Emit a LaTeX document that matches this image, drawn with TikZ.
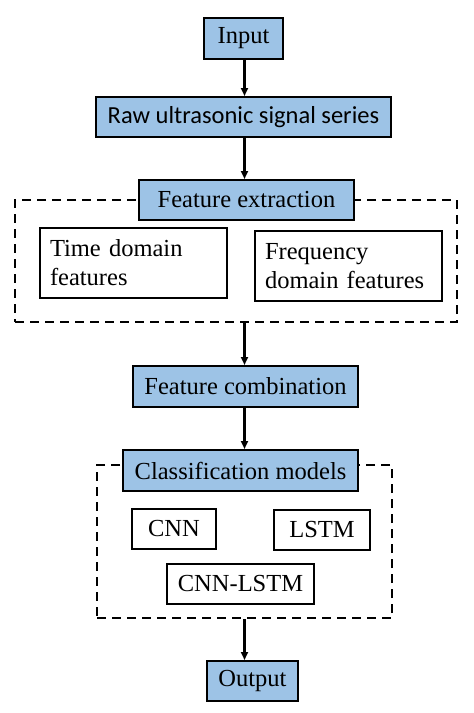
\documentclass[tikz,border=0pt]{standalone}
\usepackage{fontspec}
\setmainfont{Liberation Serif}
\newfontfamily\calfont{Carlito}
\usetikzlibrary{arrows.meta,calc}
\definecolor{boxblue}{RGB}{157,195,230}
\begin{document}
\begin{tikzpicture}[x=1pt,y=-1pt,
  base/.style={draw=black,line width=2pt,inner sep=0pt,font=\fontsize{24.5}{29}\selectfont},
  bluebox/.style={base,fill=boxblue,align=center},
  whitebox/.style={base,fill=white},
  groupbox/.style={draw=black,line width=2.8pt,dash pattern=on 9pt off 6pt,inner sep=0pt},
  arr/.style={line width=2.4pt,-{Triangle[length=8pt,width=7pt]}}]
\useasboundingbox (0,0) rectangle (474,713);
% dashed groups
\node[groupbox,minimum width=442pt,minimum height=122pt] (g1) at (236,261) {};
\node[groupbox,minimum width=295pt,minimum height=153pt] (g2) at (244.5,541.5) {};
% main boxes
\node[bluebox,minimum width=79pt,minimum height=41pt] (in) at (243.5,38.5) {Input};
\node[bluebox,minimum width=295pt,minimum height=40pt,font=\calfont\fontsize{24.5}{29}\selectfont] (raw) at (243.5,117) {Raw ultrasonic signal series};
\node[bluebox,minimum width=215pt,minimum height=40pt] (fe) at (246.5,200) {Feature extraction};
\node[whitebox,minimum width=187pt,minimum height=70pt,text width=167pt,align=left] (td) at (133.5,263) {Time domain\\features};
\node[whitebox,minimum width=187pt,minimum height=70pt,text width=167pt,align=left] (fd) at (348.5,266) {Frequency\\domain features};
\node[bluebox,minimum width=225pt,minimum height=41pt] (fc) at (245.5,386.5) {Feature combination};
\node[bluebox,minimum width=235pt,minimum height=41pt] (cm) at (240.5,470.5) {Classification models};
\node[whitebox,minimum width=84pt,minimum height=40pt] (cnn) at (174,529) {CNN};
\node[whitebox,minimum width=96pt,minimum height=40pt] (lstm) at (322,530) {LSTM};
\node[whitebox,minimum width=147pt,minimum height=40pt] (cl) at (240.5,584) {CNN-LSTM};
\node[bluebox,minimum width=91pt,minimum height=40pt] (out) at (252.5,681) {Output};
% arrows
\coordinate (ax) at (244.5,0);
\draw[arr] (in.south -| ax) -- (raw.north -| ax);
\draw[arr] (raw.south -| ax) -- (fe.north -| ax);
\draw[arr] (g1.south -| ax) -- (fc.north -| ax);
\draw[arr] (fc.south -| ax) -- (cm.north -| ax);
\draw[arr] (g2.south -| ax) -- (out.north -| ax);
\end{tikzpicture}
\end{document}
